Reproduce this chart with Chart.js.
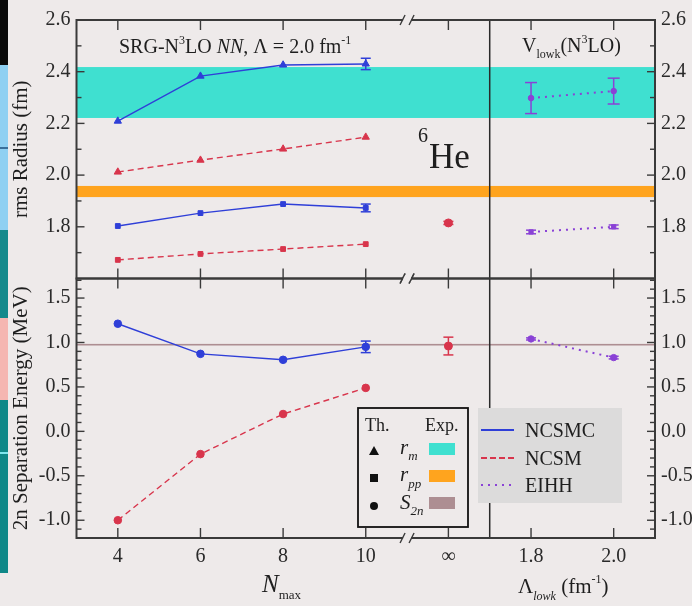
<!DOCTYPE html>
<html><head><meta charset="utf-8">
<script src="https://cdn.jsdelivr.net/npm/chart.js@4/dist/chart.umd.min.js"></script>
<style>
html,body{margin:0;padding:0;background:#eeeaea;}
#wrap{position:relative;width:692px;height:606px;overflow:hidden;background:#eeeaea;}
canvas{position:absolute;left:0;top:0;}
.strip{position:absolute;left:0;width:8px;}
</style></head><body>
<div id="wrap">
  <div class="strip" style="top:0;height:65px;background:#0a0a0a"></div>
  <div class="strip" style="top:65px;height:165px;background:#8fd0f2"></div>
  <div class="strip" style="top:147px;height:2px;background:#3a6f9a"></div>
  <div class="strip" style="top:230px;height:88px;background:#148a8c"></div>
  <div class="strip" style="top:318px;height:82px;background:#f5b6b1"></div>
  <div class="strip" style="top:400px;height:173px;background:#0f8888"></div>
  <div class="strip" style="top:452px;height:2px;background:#7fe6ee"></div>
  <canvas id="cTop" width="692" height="606"></canvas>
  <canvas id="cBot" width="692" height="606"></canvas>
</div>
<script>
// ---------- data ----------
const nmax = [4, 6, 8, 10];
const lambdaLowk = [1.8, 2.0];
const xTickValues = [4, 6, 8, 10, 12, 14, 16];
const xTickLabels = ['4', '6', '8', '10', '\u221E', '1.8', '2.0'];
const radiusTicks = [1.8, 2.0, 2.2, 2.4, 2.6];
const energyTicks = [-1.0, -0.5, 0.0, 0.5, 1.0, 1.5];

const ncsmcRm = [2.209, 2.383, 2.426, 2.430];
const ncsmcRmErr = [0, 0, 0, 0.022];
const ncsmRm = [2.012, 2.058, 2.101, 2.147];
const ncsmcRpp = [1.803, 1.853, 1.888, 1.873];
const ncsmcRppErr = [0, 0, 0, 0.015];
const ncsmRpp = [1.672, 1.695, 1.714, 1.733];
const infRpp = [1.815];
const infRppErr = [0.006];
const eihhRm = [2.298, 2.325];
const eihhRmErr = [0.06, 0.05];
const eihhRpp = [1.780, 1.800];
const eihhRppErr = [0.007, 0.007];

const ncsmcS2n = [1.211, 0.872, 0.805, 0.951];
const ncsmcS2nErr = [0, 0, 0, 0.065];
const ncsmS2n = [-1.0, -0.256, 0.195, 0.489];
const infS2n = [0.96];
const infS2nErr = [0.1];
const eihhS2n = [1.04, 0.83];
const eihhS2nErr = [0.012, 0.015];

const expRmBand = [2.221, 2.418];
const expRppBand = [1.915, 1.958];
const expS2nBand = [0.966, 0.984];

// ---------- axis layout (positions on the broken x axis) ----------
const infPos = 12, breakPos = 11, dividerPos = 13;
const lambdaPos = l => 14 + (l - 1.8) * 10;
const W = 692, H = 606;
const PL = 76.5, PR = 655, PT = 20, PM = 278.5, PB = 538;

const BG = '#eeeaea';
const BLUE = '#2f3fd8', RED = '#d8354c', PURP = '#8a42d6';
const CYAN = '#3fe0d0', ORANGE = '#ffa41e', MAUVE = '#ad8e92';
const FONT = "'Liberation Serif', 'Times New Roman', serif";

const pts = (xs, ys) => xs.map((x, i) => ({x: x, y: ys[i]}));

function runs(ctx, x, y, parts, color) {
  ctx.fillStyle = color || '#1e1e1e';
  ctx.textBaseline = 'alphabetic';
  ctx.textAlign = 'left';
  for (const [t, size, it, dy] of parts) {
    ctx.font = (it ? 'italic ' : '') + size + 'px ' + FONT;
    ctx.fillText(t, x, y + (dy || 0));
    x += ctx.measureText(t).width;
  }
  return x;
}

function line(ctx, x1, y1, x2, y2) {
  ctx.beginPath(); ctx.moveTo(x1, y1); ctx.lineTo(x2, y2); ctx.stroke();
}

const errorBars = {
  id: 'errorBars',
  afterDatasetsDraw(chart) {
    const ctx = chart.ctx;
    chart.data.datasets.forEach((ds, i) => {
      if (!ds.errors) return;
      const meta = chart.getDatasetMeta(i);
      const ys = chart.scales[meta.yAxisID];
      const cap = ds.capHalf || 5;
      ctx.save();
      ctx.strokeStyle = ds.backgroundColor;
      ctx.lineWidth = 1.5;
      ds.data.forEach((p, j) => {
        const e = ds.errors[j];
        if (!e) return;
        const px = meta.data[j].x;
        const y1 = ys.getPixelForValue(p.y + e), y2 = ys.getPixelForValue(p.y - e);
        line(ctx, px, y1, px, y2);
        line(ctx, px - cap, y1, px + cap, y1);
        line(ctx, px - cap, y2, px + cap, y2);
      });
      ctx.restore();
    });
  }
};

function drawFrame(chart, yTicksMajor, yMinor) {
  const ctx = chart.ctx, a = chart.chartArea;
  const xs = chart.scales.x, ys = chart.scales.y;
  ctx.save();
  // divider
  const dx = xs.getPixelForValue(dividerPos);
  ctx.strokeStyle = '#2a2a2a';
  ctx.lineWidth = 1.5;
  line(ctx, dx, a.top, dx, a.bottom);
  // frame
  ctx.strokeStyle = '#3a3a3a';
  ctx.lineWidth = 2;
  ctx.strokeRect(a.left, a.top, a.right - a.left, a.bottom - a.top);
  // y ticks
  ctx.lineWidth = 1.4;
  yTicksMajor.forEach(v => {
    const py = ys.getPixelForValue(v);
    if (py <= a.top + 1 || py >= a.bottom - 1) return;
    line(ctx, a.left, py, a.left + 8, py);
    line(ctx, a.right, py, a.right - 8, py);
  });
  yMinor.forEach(v => {
    const py = ys.getPixelForValue(v);
    if (py <= a.top + 1 || py >= a.bottom - 1) return;
    line(ctx, a.left, py, a.left + 5, py);
    line(ctx, a.right, py, a.right - 5, py);
  });
  // x ticks
  xTickValues.forEach(v => {
    const px = xs.getPixelForValue(v);
    line(ctx, px, a.top, px, a.top + 10);
    line(ctx, px, a.bottom, px, a.bottom - 10);
  });
  // axis breaks
  const bx = xs.getPixelForValue(breakPos);
  [a.top, a.bottom].forEach(y => {
    ctx.fillStyle = BG;
    ctx.fillRect(bx - 4, y - 3, 8, 6);
    ctx.strokeStyle = '#3a3a3a';
    ctx.lineWidth = 1.4;
    line(ctx, bx - 7, y + 5, bx - 2, y - 5);
    line(ctx, bx + 2, y + 5, bx + 7, y - 5);
  });
  ctx.restore();
}

const topPlugin = {
  id: 'topDeco',
  beforeDatasetsDraw(chart) {
    const ctx = chart.ctx, a = chart.chartArea, ys = chart.scales.y;
    ctx.save();
    ctx.fillStyle = CYAN;
    let y1 = ys.getPixelForValue(expRmBand[1]), y2 = ys.getPixelForValue(expRmBand[0]);
    ctx.fillRect(a.left, y1, a.right - a.left, y2 - y1);
    ctx.fillStyle = ORANGE;
    y1 = ys.getPixelForValue(expRppBand[1]); y2 = ys.getPixelForValue(expRppBand[0]);
    ctx.fillRect(a.left, y1, a.right - a.left, y2 - y1);
    ctx.restore();
  },
  afterDraw(chart) {
    const ctx = chart.ctx;
    const minor = [1.7, 1.9, 2.1, 2.3, 2.5];
    drawFrame(chart, radiusTicks, minor);
    ctx.save();
    runs(ctx, 119, 53, [['SRG-N', 20], ['3', 12, false, -9], ['LO ', 20], ['NN', 20, true], [', \u039B = 2.0 fm', 20], ['-1', 12, false, -9]]);
    runs(ctx, 418, 142, [['6', 20]]);
    runs(ctx, 429, 168, [['He', 35]]);
    runs(ctx, 522, 52, [['V', 20], ['lowk', 12, false, 6], ['(N', 20], ['3', 12, false, -9], ['LO)', 20]]);
    ctx.restore();
  }
};

const botPlugin = {
  id: 'botDeco',
  beforeDatasetsDraw(chart) {
    const ctx = chart.ctx, a = chart.chartArea, ys = chart.scales.y;
    ctx.save();
    ctx.fillStyle = MAUVE;
    const y1 = ys.getPixelForValue(expS2nBand[1]), y2 = ys.getPixelForValue(expS2nBand[0]);
    ctx.fillRect(a.left, y1, a.right - a.left, y2 - y1);
    ctx.restore();
  },
  afterDraw(chart) {
    const ctx = chart.ctx;
    const minor = [];
    for (let k = -11; k <= 17; k++) { if (k % 5 !== 0) minor.push(k / 10); }
    drawFrame(chart, energyTicks, minor);
    ctx.save();
    // legend 1
    ctx.fillStyle = BG;
    ctx.fillRect(358, 408, 110, 119);
    ctx.strokeStyle = '#111';
    ctx.lineWidth = 1.8;
    ctx.strokeRect(358, 408, 110, 119);
    runs(ctx, 365, 431, [['Th.', 18]]);
    runs(ctx, 425, 431, [['Exp.', 18]]);
    ctx.fillStyle = '#111';
    ctx.beginPath(); ctx.moveTo(374, 446); ctx.lineTo(379, 455); ctx.lineTo(369, 455); ctx.closePath(); ctx.fill();
    ctx.fillRect(370, 474, 8, 8);
    ctx.beginPath(); ctx.arc(374, 506, 4, 0, Math.PI * 2); ctx.fill();
    runs(ctx, 400, 454, [['r', 21, true], ['m', 13, true, 6]]);
    runs(ctx, 400, 481, [['r', 21, true], ['pp', 13, true, 7]]);
    runs(ctx, 400, 509, [['S', 21, true], ['2n', 13, true, 6]]);
    ctx.fillStyle = CYAN; ctx.fillRect(429, 443, 26, 12);
    ctx.fillStyle = ORANGE; ctx.fillRect(429, 470, 26, 12);
    ctx.fillStyle = MAUVE; ctx.fillRect(429, 497, 26, 12);
    // legend 2
    ctx.fillStyle = '#dcdbdb';
    ctx.fillRect(478, 408, 144, 95);
    ctx.lineWidth = 2;
    ctx.strokeStyle = BLUE; line(ctx, 481, 430, 514, 430);
    ctx.strokeStyle = RED; ctx.setLineDash([6, 3]); line(ctx, 481, 458, 514, 458);
    ctx.strokeStyle = PURP; ctx.setLineDash([2, 5]); line(ctx, 481, 485, 514, 485);
    ctx.setLineDash([]);
    runs(ctx, 525, 437, [['NCSMC', 20]]);
    runs(ctx, 525, 465, [['NCSM', 20]]);
    runs(ctx, 525, 492, [['EIHH', 20]]);
    // x axis titles
    runs(ctx, 262, 592, [['N', 25, true], ['max', 13, false, 7]]);
    runs(ctx, 518, 593, [['\u039B', 21], ['lowk', 12, true, 7], [' (fm', 21], ['-1', 12, false, -10], [')', 21]]);
    ctx.restore();
  }
};

function yAxis(pos, min, max, ticksArr, title) {
  return {
    type: 'linear', position: pos, min: min, max: max,
    afterFit: s => { s.width = pos === 'left' ? PL : W - PR; },
    afterBuildTicks: s => { s.ticks = ticksArr.map(v => ({value: v})); },
    grid: {display: false, drawTicks: false},
    border: {display: false},
    ticks: {padding: 6, color: '#2a2a2a', font: {family: FONT, size: 20}, callback: v => Number(v).toFixed(1)},
    title: title ? {display: true, text: title, color: '#1e1e1e', font: {family: FONT, size: 21}, padding: {top: 9, bottom: 0}} : {display: false}
  };
}

const common = {
  responsive: false, animation: false, devicePixelRatio: 1,
  plugins: {legend: {display: false}, tooltip: {enabled: false}},
};

function ds(data, color, style, radius, dash, errors, showLine, capHalf) {
  return {
    data: data, borderColor: color, backgroundColor: color,
    pointStyle: style, pointRadius: radius, pointBorderWidth: 1,
    borderWidth: dash && dash[0] <= 2 ? 2 : 1.4, borderDash: dash || [],
    showLine: showLine !== false, errors: errors, capHalf: capHalf, tension: 0
  };
}

new Chart(document.getElementById('cTop'), {
  type: 'line',
  data: {datasets: [
    ds(pts(nmax, ncsmcRm), BLUE, 'triangle', 4.2, null, ncsmcRmErr),
    ds(pts(nmax, ncsmRm), RED, 'triangle', 4.2, [6, 4]),
    ds(pts(nmax, ncsmcRpp), BLUE, 'rect', 3.4, null, ncsmcRppErr),
    ds(pts(nmax, ncsmRpp), RED, 'rect', 3.4, [6, 4]),
    ds(pts([infPos], infRpp), RED, 'circle', 4, null, infRppErr, false),
    ds(pts(lambdaLowk.map(lambdaPos), eihhRm), PURP, 'circle', 2.8, [2, 5], eihhRmErr, true, 6),
    ds(pts(lambdaLowk.map(lambdaPos), eihhRpp), PURP, 'rect', 3, [2, 5], eihhRppErr)
  ]},
  options: Object.assign({}, common, {
    layout: {padding: {top: PT, bottom: H - PM, left: 0, right: 0}},
    scales: {
      x: {type: 'linear', min: 3, max: 17, display: false},
      y: yAxis('left', 1.6, 2.6, radiusTicks, 'rms Radius (fm)'),
      y2: yAxis('right', 1.6, 2.6, radiusTicks, null)
    }
  }),
  plugins: [topPlugin, errorBars]
});

new Chart(document.getElementById('cBot'), {
  type: 'line',
  data: {datasets: [
    ds(pts(nmax, ncsmcS2n), BLUE, 'circle', 3.8, null, ncsmcS2nErr),
    ds(pts(nmax, ncsmS2n), RED, 'circle', 3.8, [6, 4]),
    ds(pts([infPos], infS2n), RED, 'circle', 4, null, infS2nErr, false),
    ds(pts(lambdaLowk.map(lambdaPos), eihhS2n), PURP, 'circle', 3.2, [2, 5], eihhS2nErr)
  ]},
  options: Object.assign({}, common, {
    layout: {padding: {top: PM, bottom: 0, left: 0, right: 0}},
    scales: {
      x: {
        type: 'linear', min: 3, max: 17, position: 'bottom',
        afterFit: s => { s.height = H - PB; },
        afterBuildTicks: s => { s.ticks = xTickValues.map(v => ({value: v})); },
        grid: {display: false, drawTicks: false},
        border: {display: false},
        ticks: {padding: 7, autoSkip: false, maxRotation: 0, color: '#2a2a2a', font: {family: FONT, size: 20},
          callback: v => xTickLabels[xTickValues.indexOf(v)]}
      },
      y: yAxis('left', -1.2, 1.72, energyTicks, '2n Separation Energy (MeV)'),
      y2: yAxis('right', -1.2, 1.72, energyTicks, null)
    }
  }),
  plugins: [botPlugin, errorBars]
});
</script>
</body></html>
